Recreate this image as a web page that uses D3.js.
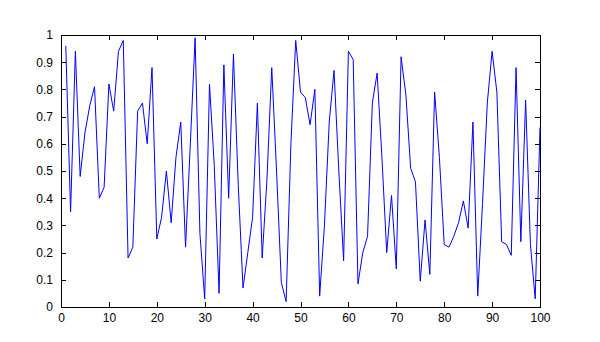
<!DOCTYPE html>
<html>
<head>
<meta charset="utf-8">
<script src="https://cdn.jsdelivr.net/npm/d3@7"></script>
<style>
  body { margin: 0; background: #fff; }
  svg { display: block; }
  .axis text { font-family: "Liberation Sans", Arial, sans-serif; font-size: 12px; fill: #000; }
  .axis path, .axis line { stroke: #000; shape-rendering: crispEdges; }
</style>
</head>
<body>
<svg id="stage" width="600" height="342"></svg>
<script>
// sample values, one per x index 1..100
const values = [
  0.96, 0.35, 0.94, 0.48, 0.64, 0.74, 0.81, 0.40, 0.44, 0.82,
  0.72, 0.94, 0.98, 0.18, 0.22, 0.72, 0.75, 0.60, 0.88, 0.25,
  0.33, 0.50, 0.31, 0.55, 0.68, 0.22, 0.60, 0.99, 0.27, 0.03,
  0.82, 0.52, 0.05, 0.89, 0.40, 0.93, 0.45, 0.07, 0.20, 0.33,
  0.75, 0.18, 0.47, 0.88, 0.50, 0.09, 0.02, 0.60, 0.98, 0.79,
  0.77, 0.67, 0.80, 0.04, 0.30, 0.68, 0.87, 0.50, 0.17, 0.94,
  0.91, 0.085, 0.20, 0.26, 0.75, 0.86, 0.55, 0.20, 0.41, 0.14,
  0.92, 0.78, 0.51, 0.46, 0.095, 0.32, 0.12, 0.79, 0.55, 0.23,
  0.22, 0.26, 0.31, 0.39, 0.29, 0.68, 0.04, 0.38, 0.75, 0.94,
  0.79, 0.24, 0.23, 0.19, 0.88, 0.24, 0.76, 0.23, 0.03, 0.66
];
const xTicks = [0, 10, 20, 30, 40, 50, 60, 70, 80, 90, 100];
const yTicks = [0, 0.1, 0.2, 0.3, 0.4, 0.5, 0.6, 0.7, 0.8, 0.9, 1];

const margin = { top: 35, right: 60, bottom: 35, left: 61 };
const width = 600 - margin.left - margin.right;
const height = 342 - margin.top - margin.bottom;
const tick = 5;

const svg = d3.select("#stage");
const g = svg.append("g").attr("transform", `translate(${margin.left},${margin.top})`);

const x = d3.scaleLinear().domain([0, 100]).range([0, width]);
const y = d3.scaleLinear().domain([0, 1]).range([height, 0]);

// box + inward ticks on all four sides (matlab look)
g.append("g")
  .attr("class", "axis")
  .attr("transform", `translate(0,${height})`)
  .call(d3.axisBottom(x).tickValues(xTicks).tickSizeInner(-tick).tickSizeOuter(0).tickPadding(6))
  .call((a) => a.select(".domain").remove());
g.append("g")
  .attr("class", "axis")
  .call(d3.axisTop(x).tickValues(xTicks).tickSizeInner(-tick).tickSizeOuter(0).tickFormat(""))
  .call((a) => a.select(".domain").remove());
g.append("g")
  .attr("class", "axis")
  .call(d3.axisLeft(y).tickValues(yTicks).tickSizeInner(-tick).tickSizeOuter(0).tickPadding(8).tickFormat(d3.format("")))
  .call((a) => a.select(".domain").remove());
g.append("g")
  .attr("class", "axis")
  .attr("transform", `translate(${width},0)`)
  .call(d3.axisRight(y).tickValues(yTicks).tickSizeInner(-tick).tickSizeOuter(0).tickFormat(""))
  .call((a) => a.select(".domain").remove());

g.append("rect")
  .attr("x", 0)
  .attr("y", 0)
  .attr("width", width)
  .attr("height", height)
  .attr("fill", "none")
  .attr("stroke", "#000")
  .attr("shape-rendering", "crispEdges");

const line = d3
  .line()
  .x((d, i) => x(i + 1))
  .y((d) => y(d));

g.append("path")
  .datum(values)
  .attr("d", line)
  .attr("fill", "none")
  .attr("stroke", "#0000ff")
  .attr("stroke-width", 1);
</script>
</body>
</html>
